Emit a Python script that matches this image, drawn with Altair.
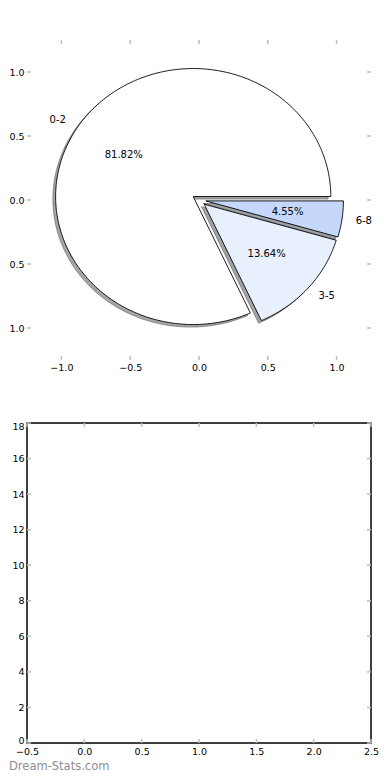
import altair as alt
import numpy as np
import pandas as pd

# ---- data ----
labels = ["0-2", "3-5", "6-8"]
counts = [18, 3, 1]
explode = [0.05, 0.05, 0.05]
pie_ticks = [-1.0, -0.5, 0.0, 0.5, 1.0]
bar_x_ticks = [-0.5, 0.0, 0.5, 1.0, 1.5, 2.0, 2.5]
bar_y_ticks = [0, 2, 4, 6, 8, 10, 12, 14, 16, 18]

# ---- styles ----
slice_fill = ["#ffffff", "#e9f0fd", "#c5d8fc"]
shadow_fill = ["#4d4d4d", "#46484c", "#3b414c"]
TICK = "#bdbdbd"
FONT = "DejaVu Sans"
W, H = 344, 320

# ---- pie geometry derived from the counts ----
total = float(sum(counts))
wedge_rows, text_rows = [], []
start = 0.0
for i, (lab, c, ex) in enumerate(zip(labels, counts, explode)):
    sweep = 360.0 * c / total
    t1, t2 = start, start + sweep
    mid = np.deg2rad((t1 + t2) / 2)
    cx, cy = ex * np.cos(mid), ex * np.sin(mid)
    n = max(2, int(np.ceil(sweep)))
    pts = [(cx, cy)]
    for a in np.deg2rad(np.linspace(t1, t2, n + 1)):
        pts.append((cx + np.cos(a), cy + np.sin(a)))
    pts.append((cx, cy))
    for k, (px, py) in enumerate(pts):
        wedge_rows.append(dict(slice=i, idx=k, x=px, y=py, sx=px - 0.02, sy=py - 0.02,
                               fill=slice_fill[i], shadow=shadow_fill[i]))
    lx, ly = cx + 1.1 * np.cos(mid), cy + 1.1 * np.sin(mid)
    text_rows.append(dict(kind="label", text=lab, x=lx, y=ly,
                          align="left" if lx > 0 else "right"))
    text_rows.append(dict(kind="pct", text=f"{100 * c / total:.2f}%",
                          x=cx + 0.6 * np.cos(mid), y=cy + 0.6 * np.sin(mid), align="center"))
    start = t2

wedges = pd.DataFrame(wedge_rows)
texts = pd.DataFrame(text_rows)

# ---- top panel (pie) ----
pxs = alt.Scale(domain=[-1.25, 1.25], nice=False, zero=False)
pys = alt.Scale(domain=[-1.25, 1.25], nice=False, zero=False)
pxa = alt.Axis(values=pie_ticks, format=".1f", title=None, labelPadding=2)
pya = alt.Axis(values=pie_ticks, format=".1f", title=None, labelPadding=3,
               labelExpr="replace(replace(datum.label, '\u2212', ''), '-', '')")

shadows = alt.Chart(wedges).mark_line(strokeWidth=1, fillOpacity=0.5, strokeOpacity=0.5).encode(
    x=alt.X("sx:Q", scale=pxs, axis=pxa),
    y=alt.Y("sy:Q", scale=pys, axis=pya),
    order="idx:Q",
    detail="slice:N",
    fill=alt.Fill("shadow:N", scale=None),
    stroke=alt.Stroke("shadow:N", scale=None),
)
slices = alt.Chart(wedges).mark_line(strokeWidth=0.9, color="black").encode(
    x=alt.X("x:Q", scale=pxs, axis=pxa),
    y=alt.Y("y:Q", scale=pys, axis=pya),
    order="idx:Q",
    detail="slice:N",
    fill=alt.Fill("fill:N", scale=None),
)

def text_layer(df, align):
    return alt.Chart(df).mark_text(align=align, baseline="middle", font=FONT,
                                   fontSize=10, color="black").encode(
        x=alt.X("x:Q", scale=pxs, axis=pxa),
        y=alt.Y("y:Q", scale=pys, axis=pya),
        text="text:N",
    )

t_left = text_layer(texts[texts["align"] == "left"], "left")
t_right = text_layer(texts[texts["align"] == "right"], "right")
t_center = text_layer(texts[texts["align"] == "center"], "center")


def tick_layers(xt, yt, xs, ys, xa, ya):
    dx = pd.DataFrame({"v": xt})
    dy = pd.DataFrame({"v": yt})
    base = dict(color=TICK, strokeWidth=1.5)
    return [
        alt.Chart(dx).mark_rule(**base).encode(x=alt.X("v:Q", scale=xs, axis=xa),
                                               y=alt.value(0), y2=alt.value(4)),
        alt.Chart(dx).mark_rule(**base).encode(x=alt.X("v:Q", scale=xs, axis=xa),
                                               y=alt.value(H - 4), y2=alt.value(H)),
        alt.Chart(dy).mark_rule(**base).encode(y=alt.Y("v:Q", scale=ys, axis=ya),
                                               x=alt.value(0), x2=alt.value(4)),
        alt.Chart(dy).mark_rule(**base).encode(y=alt.Y("v:Q", scale=ys, axis=ya),
                                               x=alt.value(W - 4), x2=alt.value(W)),
    ]

top = alt.layer(
    *tick_layers(pie_ticks, pie_ticks, pxs, pys, pxa, pya),
    shadows, slices, t_left, t_right, t_center,
).properties(width=W, height=H, view=alt.ViewBackground(stroke="transparent"))

# ---- bottom panel (empty axes) ----
bxs = alt.Scale(domain=[-0.5, 2.5], nice=False, zero=False)
bys = alt.Scale(domain=[0, 18], nice=False, zero=False)
bxa = alt.Axis(values=bar_x_ticks, format=".1f", title=None, labelPadding=3)
bya = alt.Axis(values=bar_y_ticks, format="d", title=None, labelPadding=3,
               labelFlush=True, labelFlushOffset=2)

watermark = alt.Chart(pd.DataFrame({"t": ["Dream-Stats.com"]})).mark_text(
    align="left", baseline="middle", font=FONT, fontSize=11.5, color="#8f8f8f"
).encode(text="t:N", x=alt.value(-18), y=alt.value(H + 24))

bottom = alt.layer(
    *tick_layers(bar_x_ticks, bar_y_ticks, bxs, bys, bxa, bya), watermark
).properties(width=W, height=H,
             view=alt.ViewBackground(stroke="black", strokeWidth=1.5))

chart = alt.vconcat(top, bottom, spacing=63, bounds="flush").properties(
    padding={"left": 0, "top": 30, "right": 0, "bottom": 0}
).configure_axis(
    ticks=False, domain=False, grid=False, labelFont=FONT, labelFontSize=9.5,
    labelColor="black", labelFlush=False,
)

chart.save("out.html", embed_options={"renderer": "svg", "actions": False})
